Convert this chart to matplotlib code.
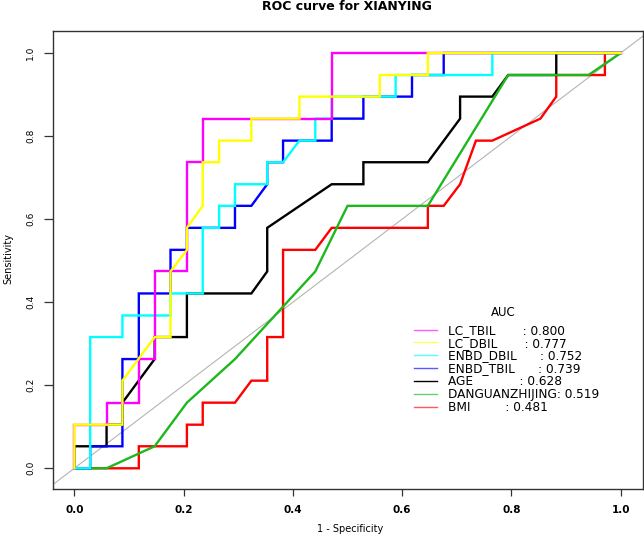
import matplotlib
matplotlib.use("Agg")
import matplotlib.pyplot as plt
from matplotlib.lines import Line2D

# ---------------- data ----------------
lc_tbil_fpr = [0, 0, 0.059, 0.059, 0.118, 0.118, 0.147, 0.147, 0.206, 0.206, 0.235, 0.235, 0.471, 0.471, 1]
lc_tbil_tpr = [0, 0.105, 0.105, 0.158, 0.158, 0.263, 0.263, 0.474, 0.474, 0.737, 0.737, 0.842, 0.842, 1, 1]

lc_dbil_fpr = [0, 0, 0.088, 0.088, 0.147, 0.176, 0.176, 0.206, 0.206, 0.235, 0.235, 0.265, 0.265, 0.324,
               0.324, 0.412, 0.412, 0.559, 0.559, 0.647, 0.647, 1]
lc_dbil_tpr = [0, 0.105, 0.105, 0.211, 0.316, 0.316, 0.474, 0.526, 0.579, 0.632, 0.737, 0.737, 0.789, 0.789,
               0.842, 0.842, 0.895, 0.895, 0.947, 0.947, 1, 1]

enbd_dbil_fpr = [0, 0.029, 0.029, 0.088, 0.088, 0.176, 0.176, 0.235, 0.235, 0.265, 0.265, 0.294, 0.294,
                 0.353, 0.353, 0.382, 0.412, 0.441, 0.441, 0.471, 0.471, 0.588, 0.588, 0.765, 0.765, 1]
enbd_dbil_tpr = [0, 0, 0.316, 0.316, 0.368, 0.368, 0.421, 0.421, 0.579, 0.579, 0.632, 0.632, 0.684,
                 0.684, 0.737, 0.737, 0.789, 0.789, 0.842, 0.842, 0.895, 0.895, 0.947, 0.947, 1, 1]

enbd_tbil_fpr = [0, 0.029, 0.029, 0.088, 0.088, 0.118, 0.118, 0.176, 0.176, 0.206, 0.206, 0.294, 0.294,
                 0.324, 0.353, 0.353, 0.382, 0.382, 0.471, 0.471, 0.529, 0.529, 0.618, 0.618, 0.676, 0.676, 1]
enbd_tbil_tpr = [0, 0, 0.053, 0.053, 0.263, 0.263, 0.421, 0.421, 0.526, 0.526, 0.579, 0.579, 0.632,
                 0.632, 0.684, 0.737, 0.737, 0.789, 0.789, 0.842, 0.842, 0.895, 0.895, 0.947, 0.947, 1, 1]

age_fpr = [0, 0, 0.059, 0.059, 0.088, 0.088, 0.147, 0.147, 0.206, 0.206, 0.324, 0.353, 0.353, 0.471,
           0.529, 0.529, 0.647, 0.706, 0.706, 0.765, 0.794, 0.882, 0.882, 1]
age_tpr = [0, 0.053, 0.053, 0.105, 0.105, 0.158, 0.263, 0.316, 0.316, 0.421, 0.421, 0.474, 0.579, 0.684,
           0.684, 0.737, 0.737, 0.842, 0.895, 0.895, 0.947, 0.947, 1, 1]

dgzj_fpr = [0, 0.059, 0.147, 0.206, 0.294, 0.441, 0.5, 0.647, 0.794, 0.941, 1]
dgzj_tpr = [0, 0, 0.053, 0.158, 0.263, 0.474, 0.632, 0.632, 0.947, 0.947, 1]

bmi_fpr = [0, 0.118, 0.118, 0.206, 0.206, 0.235, 0.235, 0.294, 0.324, 0.353, 0.353, 0.382, 0.382, 0.441,
           0.471, 0.647, 0.647, 0.676, 0.706, 0.735, 0.765, 0.853, 0.882, 0.882, 0.971, 0.971, 1]
bmi_tpr = [0, 0, 0.053, 0.053, 0.105, 0.105, 0.158, 0.158, 0.211, 0.211, 0.316, 0.316, 0.526, 0.526,
           0.579, 0.579, 0.632, 0.632, 0.684, 0.789, 0.789, 0.842, 0.895, 0.947, 0.947, 1, 1]

series_names = ["LC_TBIL", "LC_DBIL", "ENBD_DBIL", "ENBD_TBIL", "AGE", "DANGUANZHIJING", "BMI"]
auc_values = [0.800, 0.777, 0.752, 0.739, 0.628, 0.519, 0.481]
legend_labels = ["LC_TBIL       : 0.800", "LC_DBIL       : 0.777", "ENBD_DBIL      : 0.752",
                 "ENBD_TBIL      : 0.739", "AGE            : 0.628", "DANGUANZHIJING: 0.519",
                 "BMI         : 0.481"]
x_ticks = [0.0, 0.2, 0.4, 0.6, 0.8, 1.0]
y_ticks = [0.0, 0.2, 0.4, 0.6, 0.8, 1.0]

# ---------------- styling ----------------
colors = ["#ff00ff", "#ffff00", "#00ffff", "#0000ff", "#000000", "#1cb81c", "#ff0000"]
zorders = [7, 8, 6, 5, 3, 4, 2]
curves = [(lc_tbil_fpr, lc_tbil_tpr), (lc_dbil_fpr, lc_dbil_tpr), (enbd_dbil_fpr, enbd_dbil_tpr),
          (enbd_tbil_fpr, enbd_tbil_tpr), (age_fpr, age_tpr), (dgzj_fpr, dgzj_tpr), (bmi_fpr, bmi_tpr)]

W, H = 644, 537
fig = plt.figure(figsize=(W / 100, H / 100), dpi=100)
plt.rcParams['font.family'] = ['DejaVu Sans']

# axes box in pixels: left 53.3, right 642.7, top 31, bottom 489.3
L, R, T, B = 53.3, 642.7, 31.0, 489.3
ax = fig.add_axes([L / W, 1 - B / H, (R - L) / W, (B - T) / H])
ax.set_xlim(-0.0385, 1.0402)
ax.set_ylim(-0.0506, 1.053)

ax.axline((0, 0), (1, 1), color="#b4b4b4", lw=0.8, zorder=1)

for (fx, ty), c, z in zip(curves, colors, zorders):
    ax.plot(fx, ty, color=c, lw=1.7, zorder=z, solid_joinstyle="miter")

for s in ax.spines.values():
    s.set_linewidth(1.0)
    s.set_color("#333333")

ax.set_xticks(x_ticks)
ax.set_xticklabels([f"{v:.1f}" for v in x_ticks], fontsize=7.5, fontweight="bold")
ax.set_yticks(y_ticks)
ax.set_yticklabels([f"{v:.1f}" for v in y_ticks], fontsize=6.5, rotation=90, va="center")
ax.tick_params(axis="x", direction="out", length=5.2, width=0.9, pad=6, colors="#333333", labelcolor="black")
ax.tick_params(axis="y", direction="out", length=6.5, width=0.9, pad=6.5, colors="#333333", labelcolor="black")

# titles / labels
fig.text(347 / W, 1 - 6 / H, "ROC curve for XIANYING", ha="center", va="center",
         fontsize=9, fontweight="bold")
fig.text(350.5 / W, 1 - 529 / H, "1 - Specificity", ha="center", va="center", fontsize=7)
fig.text(8 / W, 1 - 259 / H, "Sensitivity", ha="center", va="center", rotation=90, fontsize=7)

# legend (manual, R style)
fig.text(503 / W, 1 - 312 / H, "AUC", ha="center", va="center", fontsize=8.5)
row0, step = 329.5, 12.9
for k, (lab, c) in enumerate(zip(legend_labels, colors)):
    yy = row0 + k * step
    fig.add_artist(Line2D([414.3 / W, 436.7 / W], [1 - yy / H, 1 - yy / H], transform=fig.transFigure,
                          color=c, lw=1.0, alpha=0.65 if c != "#000000" else 1.0))
    fig.text(448 / W, 1 - (yy + 4.2) / H, lab, ha="left", va="baseline", fontsize=8.7)

fig.savefig("out.png", dpi=100)
